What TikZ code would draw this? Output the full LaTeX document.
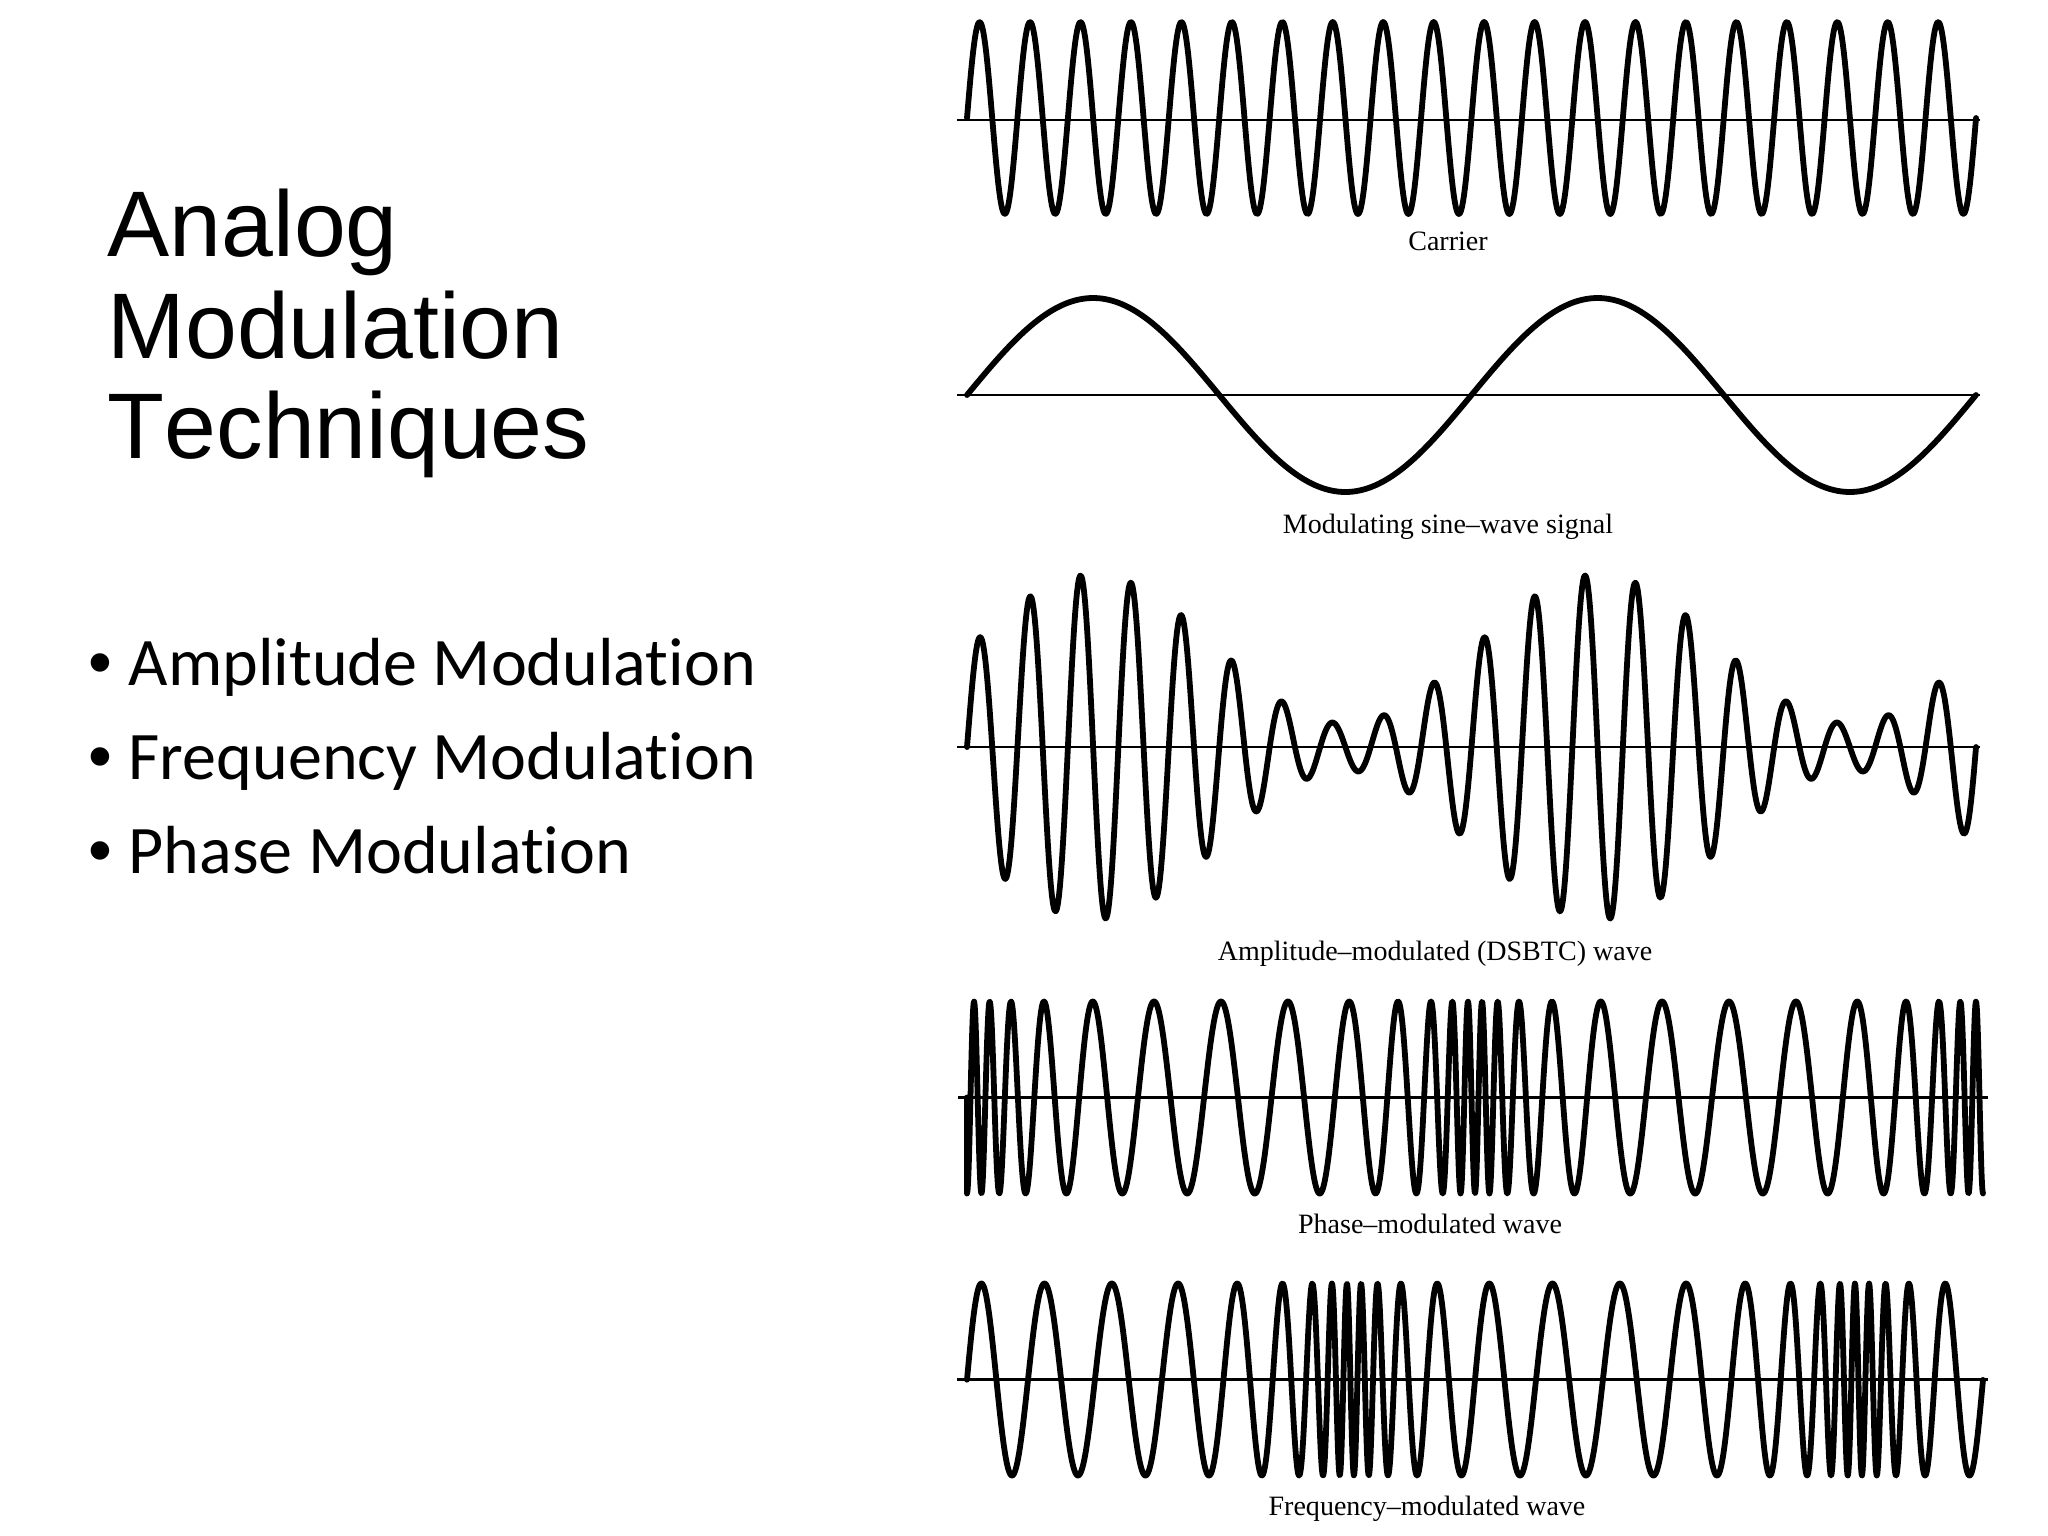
\documentclass[tikz,border=0pt]{standalone}
\usepackage{fontspec}
\setmainfont{Liberation Serif}
\newfontfamily\titlesans[Kerning=Off]{Liberation Sans}
\newfontfamily\bodysans[Ligatures={NoCommon}]{Carlito}
\begin{document}
\begin{tikzpicture}[x=0.01cm,y=-0.01cm,
  wave/.style={line width=1.65pt,line join=round,line cap=round},
  axisline/.style={line width=0.75pt},
  caption/.style={font=\fontsize{7.97pt}{9pt}\selectfont,inner sep=0pt,anchor=base},
  titletext/.style={font=\titlesans\fontsize{26.5pt}{30pt}\selectfont,inner sep=0pt,anchor=base west},
  itemtext/.style={font=\bodysans\fontsize{19.35pt}{23pt}\selectfont,inner sep=0pt,anchor=base west},
  itemdot/.style={font=\titlesans\fontsize{19.35pt}{23pt}\selectfont,inner sep=0pt,anchor=base west},
  declare function={
    mtha(\x)=(\x-967)*0.713578;
    mthb(\x)=(\x-967)*0.708661;
    psik(\t)=\t+2*atan2(0.62*sin(\t),1-0.62*cos(\t));
  }]
\useasboundingbox (0,0) rectangle (2048,1536);
\fill[white] (0,0) rectangle (2048,1536);

% ---- title and bullets
\node[titletext] (t1) at (107,256) {Analog};
\node[titletext] (t2) at (107,358) {Modulation};
\node[titletext] (t3) at (107,458) {Techniques};

\node[itemdot] (d1) at (88,685) {•};
\node[itemtext] (i1) at (128,685) {Amplitude Modulation};
\node[itemdot] (d2) at (88,779) {•};
\node[itemtext] (i2) at (128,779) {Frequency Modulation};
\node[itemdot] (d3) at (88,873) {•};
\node[itemtext] (i3) at (128,873) {Phase Modulation};

% ---- axes
\coordinate (ca0) at (957,120);  \coordinate (ca1) at (1980,120);
\coordinate (ma0) at (957,395);  \coordinate (ma1) at (1980,395);
\coordinate (aa0) at (957,747);  \coordinate (aa1) at (1980,747);
\coordinate (pa0) at (958,1097.5); \coordinate (pa1) at (1988,1097.5);
\coordinate (fa0) at (957,1379.5); \coordinate (fa1) at (1988,1379.5);
\draw[axisline] (ca0) -- (ca1);
\draw[axisline] (ma0) -- (ma1);
\draw[axisline] (aa0) -- (aa1);
\draw[axisline] (pa0) -- (pa1);
\draw[axisline] (fa0) -- (fa1);

% ---- carrier
\draw[wave] plot[domain=967:1976,samples=1000] (\x,{118-96*sin(10*mtha(\x))});
% ---- modulating signal
\draw[wave] plot[domain=967:1976,samples=300] (\x,{395-97*sin(mtha(\x))});
% ---- AM
\draw[wave] plot[domain=967:1976,samples=1000] (\x,{747-98*(1+0.76*sin(mtha(\x)))*sin(10*mtha(\x))});
% ---- PM
\coordinate (pstart) at (967,1097.5);
\draw[wave] (pstart) -- plot[domain=967:1983,samples=2000] (\x,{1097.5-96*sin(5.8*mthb(\x)+7.2*psik(mthb(\x))-90)});
% ---- FM
\draw[wave] plot[domain=967:1983,samples=2000] (\x,{1379.5-96*sin(5.8*mthb(\x)+7.2*(psik(mthb(\x)-272)+207.30))});

% ---- captions
\node[caption] (lc) at (1448,250) {Carrier};
\node[caption] (lm) at (1448,533) {Modulating sine–wave signal};
\node[caption] (la) at (1435,960) {Amplitude–modulated (DSBTC) wave};
\node[caption] (lp) at (1430,1233) {Phase–modulated wave};
\node[caption] (lf) at (1427,1515) {Frequency–modulated wave};
\end{tikzpicture}
\end{document}
